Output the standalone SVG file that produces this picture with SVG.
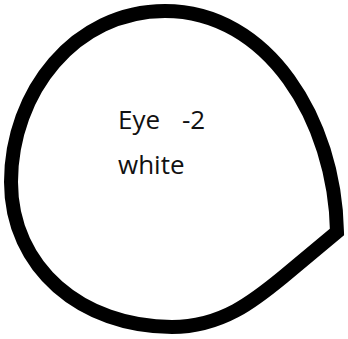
<svg xmlns="http://www.w3.org/2000/svg" width="348" height="339" viewBox="0 0 348 339">
<style>
.outline{fill:#fff;stroke:#000;stroke-width:14;stroke-linejoin:miter}
.lbl{font-family:"Open Sans","Liberation Sans",sans-serif;font-size:26px;fill:#111}
</style>
<rect width="348" height="339" fill="#fff"/>
<g id="eye">
<path class="outline" d="M 337 232 C 335 120, 268 11, 165 11 C 75 11, 11 92, 11 182 C 11 268, 82 327, 172 327 C 222 327, 255 300, 283 277 Z"/>
<text class="lbl" x="118" y="129">Eye</text>
<text class="lbl" x="182" y="129">-2</text>
<text class="lbl" x="118" y="174">white</text>
</g>
</svg>
